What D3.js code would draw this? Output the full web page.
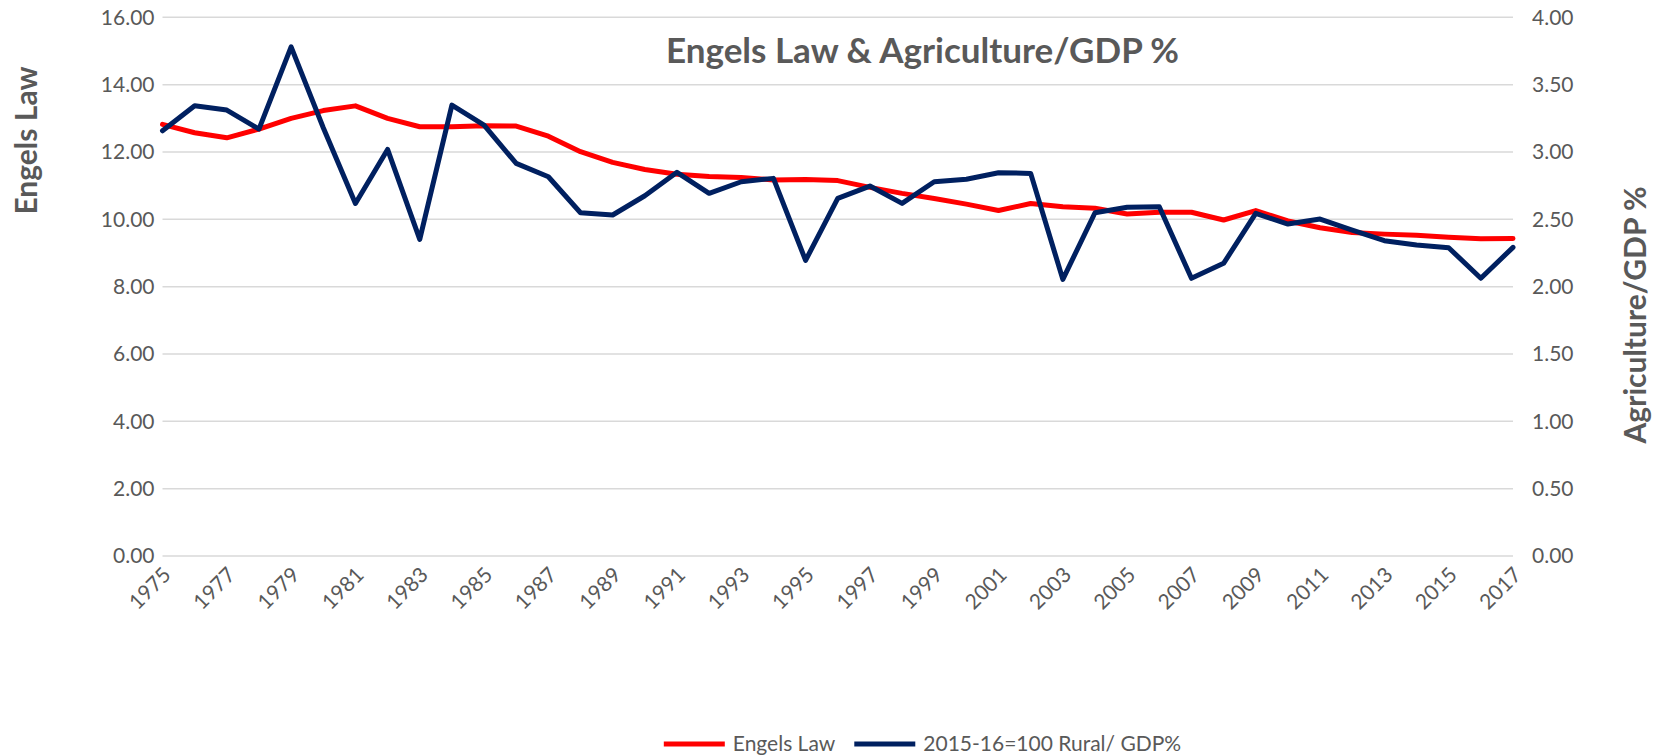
<html>
<head>
  <title>Engels Law & Agriculture/GDP %</title>
  <meta charset="utf-8">
  <script src="https://d3js.org/d3.v7.min.js" charset="utf-8"></script>
  <style>
    body { margin: 0; background: #ffffff; }
    text { font-family: Lato, "Noto Sans", sans-serif; fill: #595959; }
  </style>
</head>
<body>
  <div id="Mainbody"></div>
  <script>

  var years = [1975, 1976, 1977, 1978, 1979, 1980, 1981, 1982, 1983, 1984, 1985, 1986, 1987, 1988, 1989,
               1990, 1991, 1992, 1993, 1994, 1995, 1996, 1997, 1998, 1999, 2000, 2001, 2002, 2003, 2004,
               2005, 2006, 2007, 2008, 2009, 2010, 2011, 2012, 2013, 2014, 2015, 2016, 2017];

  // left axis series
  var engelsLaw = [12.82, 12.57, 12.42, 12.68, 13.00, 13.23, 13.37, 13.00, 12.75, 12.75, 12.78, 12.77, 12.47, 12.01, 11.69,
                   11.48, 11.34, 11.27, 11.24, 11.17, 11.18, 11.15, 10.95, 10.77, 10.62, 10.45, 10.26, 10.47, 10.37, 10.33,
                   10.16, 10.21, 10.21, 9.98, 10.26, 9.95, 9.75, 9.61, 9.56, 9.53, 9.47, 9.42, 9.43];

  // right axis series
  var ruralGdp = [3.157, 3.343, 3.311, 3.170, 3.780, 3.180, 2.618, 3.019, 2.351, 3.348, 3.200, 2.915, 2.816, 2.549, 2.532,
                  2.675, 2.849, 2.693, 2.779, 2.804, 2.195, 2.655, 2.747, 2.618, 2.779, 2.797, 2.846, 2.841, 2.054, 2.549,
                  2.589, 2.593, 2.062, 2.173, 2.544, 2.465, 2.502, 2.420, 2.341, 2.309, 2.289, 2.062, 2.292];

  var leftTicks = [0, 2, 4, 6, 8, 10, 12, 14, 16];
  var rightTicks = [0, 0.5, 1, 1.5, 2, 2.5, 3, 3.5, 4];
  var yearLabels = [1975, 1977, 1979, 1981, 1983, 1985, 1987, 1989, 1991, 1993, 1995, 1997, 1999,
                    2001, 2003, 2005, 2007, 2009, 2011, 2013, 2015, 2017];

  var seriesNames = ["Engels Law", "2015-16=100 Rural/ GDP%"];
  var seriesColors = ["#ff0000", "#002060"];

  var width = 1655, height = 756;
  var plotLeft = 162.5, plotRight = 1513, plotTop = 17.3, plotBottom = 556;

  var svg = d3.select("#Mainbody").append("svg")
      .attr("width", width)
      .attr("height", height);

  var x = d3.scalePoint().domain(years).range([plotLeft, plotRight]);
  var yLeft = d3.scaleLinear().domain([0, 16]).range([plotBottom, plotTop]);
  var yRight = d3.scaleLinear().domain([0, 4]).range([plotBottom, plotTop]);

  // gridlines
  svg.append("g").selectAll("line")
      .data(leftTicks)
      .enter()
      .append("line")
      .attr("x1", plotLeft)
      .attr("x2", plotRight)
      .attr("y1", function(d) { return yLeft(d); })
      .attr("y2", function(d) { return yLeft(d); })
      .style("stroke", "#d9d9d9")
      .style("stroke-width", 1.5);

  var leftAxis = svg.append("g")
      .attr("transform", "translate(" + (plotLeft - 8) + ",0)")
      .call(d3.axisLeft(yLeft).tickValues(leftTicks).tickFormat(d3.format(".2f")).tickSize(0));
  leftAxis.select(".domain").remove();
  leftAxis.selectAll("text")
      .attr("x", 0)
      .style("font-size", "21px")
      .style("fill", "#595959");

  var rightAxis = svg.append("g")
      .attr("transform", "translate(" + (plotRight + 19) + ",0)")
      .call(d3.axisRight(yRight).tickValues(rightTicks).tickFormat(d3.format(".2f")).tickSize(0));
  rightAxis.select(".domain").remove();
  rightAxis.selectAll("text")
      .attr("x", 0)
      .style("font-size", "21px")
      .style("fill", "#595959");

  var bottomAxis = svg.append("g")
      .attr("transform", "translate(0," + plotBottom + ")")
      .call(d3.axisBottom(x).tickValues(yearLabels).tickSize(0));
  bottomAxis.select(".domain").remove();
  bottomAxis.selectAll("text")
      .attr("y", 0)
      .attr("dy", "0.35em")
      .attr("transform", "translate(4,15) rotate(-45)")
      .style("text-anchor", "end")
      .style("font-size", "21px")
      .style("fill", "#595959");

  // lines
  var engelsLine = d3.line()
      .x(function(d, i) { return x(years[i]); })
      .y(function(d) { return yLeft(d); });
  var ruralLine = d3.line()
      .x(function(d, i) { return x(years[i]); })
      .y(function(d) { return yRight(d); });

  svg.append("path")
      .datum(engelsLaw)
      .attr("d", engelsLine)
      .style("fill", "none")
      .style("stroke", seriesColors[0])
      .style("stroke-width", 5)
      .style("stroke-linejoin", "round")
      .style("stroke-linecap", "round");

  svg.append("path")
      .datum(ruralGdp)
      .attr("d", ruralLine)
      .style("fill", "none")
      .style("stroke", seriesColors[1])
      .style("stroke-width", 5)
      .style("stroke-linejoin", "round")
      .style("stroke-linecap", "round");

  // titles
  svg.append("text")
      .attr("x", 922.5)
      .attr("y", 63.3)
      .attr("text-anchor", "middle")
      .style("font-size", "35px")
      .style("font-weight", "bold")
      .text("Engels Law & Agriculture/GDP %");

  svg.append("text")
      .attr("transform", "translate(36.8,140.5) rotate(-90)")
      .attr("text-anchor", "middle")
      .style("font-size", "30px")
      .style("font-weight", "bold")
      .text("Engels Law");

  svg.append("text")
      .attr("transform", "translate(1646,315) rotate(-90)")
      .attr("text-anchor", "middle")
      .style("font-size", "30px")
      .style("font-weight", "bold")
      .text("Agriculture/GDP %");

  // legend
  var legend = svg.append("g");
  var lx = 0;
  seriesNames.forEach(function(name, i) {
      var item = legend.append("g").attr("transform", "translate(" + lx + ",0)");
      item.append("line")
          .attr("x1", 0).attr("x2", 61)
          .attr("y1", 744).attr("y2", 744)
          .style("stroke", seriesColors[i])
          .style("stroke-width", 5);
      var t = item.append("text")
          .attr("x", 69)
          .attr("y", 751)
          .style("font-size", "21px")
          .text(name);
      lx += 69 + t.node().getComputedTextLength() + 19;
  });
  var legendWidth = lx - 19;
  legend.attr("transform", "translate(" + (922.5 - legendWidth / 2) + ",0)");

  </script>
</body>
</html>
